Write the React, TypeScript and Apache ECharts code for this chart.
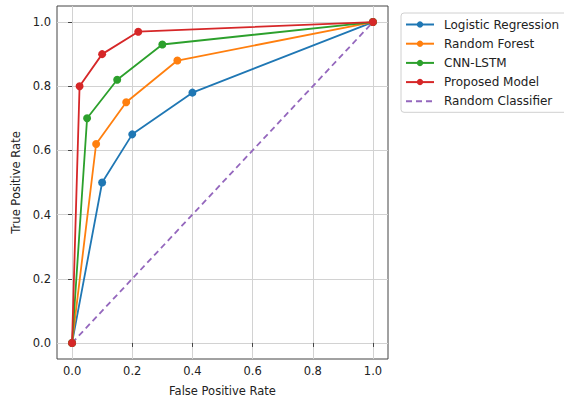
import React, { useEffect, useRef } from "react";
import * as echarts from "echarts";

const seriesNames = ["Logistic Regression", "Random Forest", "CNN-LSTM", "Proposed Model"];
const lrFpr = [0, 0.1, 0.2, 0.4, 1.0];
const lrTpr = [0, 0.5, 0.65, 0.78, 1.0];
const rfFpr = [0, 0.08, 0.18, 0.35, 1.0];
const rfTpr = [0, 0.62, 0.75, 0.88, 1.0];
const cnnFpr = [0, 0.05, 0.15, 0.3, 1.0];
const cnnTpr = [0, 0.7, 0.82, 0.93, 1.0];
const propFpr = [0, 0.025, 0.1, 0.22, 1.0];
const propTpr = [0, 0.8, 0.9, 0.97, 1.0];
const randomName = "Random Classifier";
const randomFpr = [0, 1];
const randomTpr = [0, 1];
const tickValues = [0, 0.2, 0.4, 0.6, 0.8, 1.0];

const colors = ["#1f77b4", "#ff7f0e", "#2ca02c", "#d62728"];
const FONT = "DejaVu Sans";

const zip = (xs: number[], ys: number[]) => xs.map((x, i) => [x, ys[i]]);

export default function App() {
  const ref = useRef<HTMLDivElement>(null);
  useEffect(() => {
    if (!ref.current) return;
    const chart = echarts.init(ref.current, null, { renderer: "svg" });
    const data = [
      zip(lrFpr, lrTpr),
      zip(rfFpr, rfTpr),
      zip(cnnFpr, cnnTpr),
      zip(propFpr, propTpr),
    ];
    const axisCommon = {
      type: "value" as const,
      min: -0.05,
      max: 1.05,
      nameLocation: "middle" as const,
      nameTextStyle: { fontFamily: FONT, fontSize: 11.5, color: "#222" },
      axisLine: { show: false },
      axisTick: {
        show: true,
        inside: false,
        length: 4,
        customValues: tickValues,
        lineStyle: { color: "#444", width: 1 },
      },
      axisLabel: {
        customValues: tickValues,
        formatter: (v: number) => v.toFixed(1),
        fontFamily: FONT,
        fontSize: 11.5,
        color: "#222",
        margin: 6,
      },
      splitLine: { show: true, lineStyle: { color: "#d2d2d2", width: 1 } },
    };
    chart.setOption({
      animation: false,
      backgroundColor: "#fff",
      grid: {
        left: 57,
        top: 6,
        width: 331,
        height: 355,
        show: true,
        borderColor: "#444",
        borderWidth: 1,
        backgroundColor: "transparent",
      },
      xAxis: { ...axisCommon, name: "False Positive Rate", nameGap: 26 },
      yAxis: { ...axisCommon, name: "True Positive Rate", nameGap: 33 },
      legend: {
        orient: "vertical",
        left: 401,
        top: 13,
        padding: [5.5, 10, 5, 4],
        itemWidth: 28,
        itemHeight: 8,
        itemGap: 7.2,
        backgroundColor: "#fff",
        borderColor: "#d0d0d0",
        borderWidth: 1,
        borderRadius: 3,
        textStyle: { fontFamily: FONT, fontSize: 12, color: "#222", padding: [0, 0, 0, 5] },
        data: [
          ...seriesNames,
          { name: randomName, itemStyle: { opacity: 0 } },
        ],
      },
      series: [
        ...seriesNames.map((name, i) => ({
          name,
          type: "line",
          data: data[i],
          color: colors[i],
          symbol: "circle",
          symbolSize: 8,
          lineStyle: { width: 1.8, color: colors[i] },
          itemStyle: { color: colors[i] },
          z: 3 + i,
        })),
        {
          name: randomName,
          type: "line",
          data: zip(randomFpr, randomTpr),
          color: "#9467bd",
          symbol: "none",
          showSymbol: false,
          lineStyle: { width: 1.8, color: "#9467bd", type: [6, 4] },
          itemStyle: { color: "#9467bd" },
          z: 2,
        },
      ],
    });
    return () => chart.dispose();
  }, []);
  return (
    <div
      ref={ref}
      style={{ position: "fixed", left: 0, top: 0, width: 564, height: 402 }}
    />
  );
}
